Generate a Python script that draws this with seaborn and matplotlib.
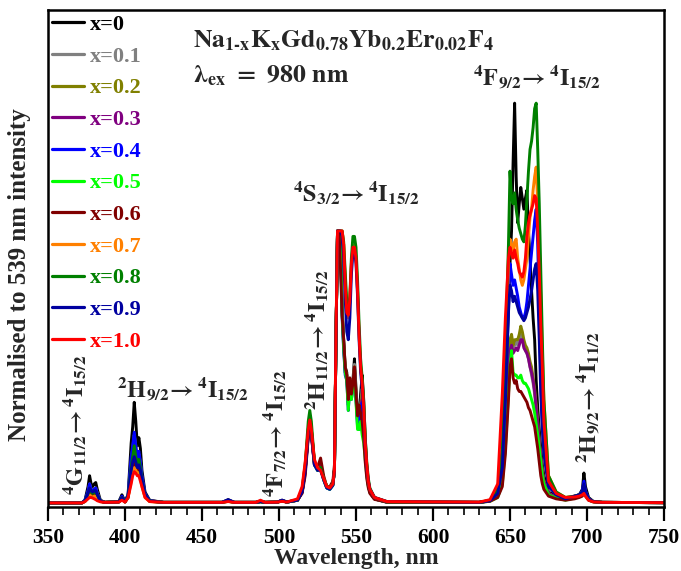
import numpy as np
import pandas as pd
import matplotlib
matplotlib.use("Agg")
import matplotlib.pyplot as plt
import seaborn as sns
from matplotlib.ticker import MultipleLocator

# ---------------- data ----------------
wavelength = [
    350, 372, 374, 376, 377, 378, 379, 380, 381, 382, 384, 387,
    396, 398, 400, 402, 404, 405, 406, 407, 408, 409, 410, 411, 413, 416, 425,
    463, 467, 471, 485, 488, 491, 499, 502, 505,
    512, 515, 517, 519, 520, 521, 523, 525, 527, 529, 531, 533, 535, 536, 537, 538,
    539, 540, 541, 542, 543, 544, 545, 546, 547, 548, 549, 550, 551, 552, 553, 554, 555, 556, 557, 558, 559, 562, 570,
    630, 637, 642, 645, 647, 649, 650, 651, 652, 653, 654, 655, 656, 657, 658, 659, 660, 661, 662, 663, 664, 665,
    666, 667, 668, 669, 670, 671, 672, 675, 680, 686,
    692, 695, 697, 698, 699, 701, 704, 710, 750,
]

series_labels = ["x=0", "x=0.1", "x=0.2", "x=0.3", "x=0.4", "x=0.5",
                 "x=0.6", "x=0.7", "x=0.8", "x=0.9", "x=1.0"]
series_colors = ["#000000", "#808080", "#808000", "#800080", "#0000FF", "#00FF00",
                 "#800000", "#FF8000", "#008000", "#0000A0", "#FF0000"]

x00 = [
    0, 0, 0.01, 0.06, 0.10, 0.07, 0.06, 0.07, 0.075, 0.05, 0.01, 0.002,
    0.005, 0.03, 0.005, 0.03, 0.22, 0.28, 0.37, 0.30, 0.21, 0.24, 0.20, 0.12, 0.04, 0.01, 0.002,
    0.002, 0.012, 0.002, 0.002, 0.006, 0.002, 0.003, 0.01, 0.004,
    0.01, 0.04, 0.12, 0.26, 0.31, 0.27, 0.15, 0.13, 0.14, 0.09, 0.06, 0.055, 0.07, 0.12, 0.6, 1.0,
    1.0, 0.97, 0.72, 0.6, 0.5, 0.48, 0.38, 0.45, 0.42, 0.45, 0.53, 0.42, 0.33, 0.30, 0.40, 0.47, 0.38, 0.24, 0.13, 0.07, 0.04, 0.015, 0.003,
    0.002, 0.008, 0.03, 0.12, 0.38, 0.72, 0.88, 1.0, 1.25, 1.47, 1.20, 1.03, 1.10, 1.16, 1.12, 1.08, 1.12, 1.15, 1.0, 0.9, 0.78, 0.68,
    0.6, 0.45, 0.35, 0.27, 0.2, 0.14, 0.1, 0.04, 0.025, 0.015,
    0.025, 0.03, 0.05, 0.11, 0.06, 0.02, 0.006, 0.002, 0.001,
]
x01 = [
    0, 0, 0.008, 0.04, 0.07, 0.05, 0.045, 0.05, 0.055, 0.035, 0.008, 0.002,
    0.004, 0.02, 0.004, 0.025, 0.15, 0.2, 0.25, 0.21, 0.16, 0.18, 0.15, 0.09, 0.03, 0.008, 0.002,
    0.002, 0.008, 0.002, 0.002, 0.005, 0.002, 0.003, 0.008, 0.003,
    0.01, 0.04, 0.12, 0.26, 0.30, 0.26, 0.15, 0.13, 0.14, 0.09, 0.06, 0.055, 0.07, 0.12, 0.6, 1.0,
    1.0, 0.95, 0.7, 0.58, 0.49, 0.47, 0.37, 0.44, 0.41, 0.44, 0.51, 0.41, 0.31, 0.29, 0.36, 0.42, 0.34, 0.22, 0.12, 0.07, 0.04, 0.015, 0.003,
    0.002, 0.008, 0.03, 0.11, 0.3, 0.5, 0.58, 0.6, 0.57, 0.58, 0.6, 0.58, 0.6, 0.62, 0.6, 0.58, 0.56, 0.55, 0.53, 0.5, 0.47, 0.44,
    0.4, 0.34, 0.28, 0.22, 0.16, 0.11, 0.08, 0.035, 0.02, 0.012,
    0.02, 0.025, 0.035, 0.07, 0.04, 0.015, 0.005, 0.002, 0.001,
]
x02 = [
    0, 0, 0.008, 0.04, 0.065, 0.05, 0.045, 0.05, 0.05, 0.035, 0.008, 0.002,
    0.004, 0.02, 0.004, 0.025, 0.14, 0.18, 0.22, 0.19, 0.15, 0.17, 0.14, 0.09, 0.03, 0.008, 0.002,
    0.002, 0.008, 0.002, 0.002, 0.005, 0.002, 0.003, 0.008, 0.003,
    0.01, 0.04, 0.12, 0.25, 0.30, 0.26, 0.15, 0.13, 0.14, 0.09, 0.06, 0.055, 0.07, 0.12, 0.6, 1.0,
    1.0, 0.95, 0.71, 0.59, 0.49, 0.47, 0.37, 0.45, 0.41, 0.44, 0.5, 0.4, 0.31, 0.29, 0.35, 0.4, 0.33, 0.21, 0.12, 0.07, 0.04, 0.015, 0.003,
    0.002, 0.008, 0.03, 0.11, 0.3, 0.52, 0.6, 0.62, 0.58, 0.6, 0.6, 0.6, 0.62, 0.65, 0.63, 0.6, 0.58, 0.57, 0.55, 0.52, 0.5, 0.46,
    0.42, 0.36, 0.3, 0.23, 0.17, 0.12, 0.08, 0.035, 0.02, 0.012,
    0.02, 0.025, 0.035, 0.06, 0.035, 0.015, 0.005, 0.002, 0.001,
]
x03 = [
    0, 0, 0.007, 0.035, 0.055, 0.04, 0.035, 0.04, 0.045, 0.03, 0.007, 0.002,
    0.004, 0.02, 0.004, 0.02, 0.12, 0.16, 0.19, 0.17, 0.14, 0.15, 0.13, 0.08, 0.03, 0.008, 0.002,
    0.002, 0.008, 0.002, 0.002, 0.005, 0.002, 0.003, 0.008, 0.003,
    0.01, 0.04, 0.12, 0.25, 0.29, 0.25, 0.14, 0.13, 0.14, 0.09, 0.06, 0.055, 0.07, 0.12, 0.6, 1.0,
    1.0, 0.94, 0.7, 0.58, 0.48, 0.46, 0.36, 0.44, 0.4, 0.43, 0.49, 0.39, 0.3, 0.28, 0.34, 0.38, 0.32, 0.2, 0.11, 0.065, 0.04, 0.015, 0.003,
    0.002, 0.008, 0.03, 0.1, 0.28, 0.48, 0.56, 0.58, 0.55, 0.56, 0.57, 0.56, 0.58, 0.6, 0.6, 0.57, 0.56, 0.55, 0.53, 0.5, 0.48, 0.45,
    0.41, 0.35, 0.29, 0.22, 0.16, 0.11, 0.08, 0.035, 0.02, 0.012,
    0.02, 0.025, 0.03, 0.05, 0.03, 0.012, 0.005, 0.002, 0.001,
]
x04 = [
    0, 0, 0.01, 0.045, 0.07, 0.05, 0.045, 0.05, 0.055, 0.035, 0.008, 0.002,
    0.004, 0.025, 0.005, 0.03, 0.17, 0.21, 0.26, 0.21, 0.17, 0.19, 0.15, 0.1, 0.035, 0.008, 0.002,
    0.002, 0.01, 0.002, 0.002, 0.005, 0.002, 0.003, 0.01, 0.003,
    0.01, 0.04, 0.11, 0.25, 0.30, 0.26, 0.14, 0.12, 0.13, 0.085, 0.055, 0.05, 0.065, 0.12, 0.6, 1.0,
    1.0, 0.93, 0.68, 0.56, 0.47, 0.45, 0.34, 0.43, 0.38, 0.42, 0.48, 0.38, 0.28, 0.27, 0.33, 0.37, 0.3, 0.19, 0.11, 0.065, 0.04, 0.015, 0.003,
    0.002, 0.008, 0.035, 0.14, 0.4, 0.75, 0.88, 0.84, 0.8, 0.82, 0.79, 0.76, 0.72, 0.7, 0.68, 0.68, 0.7, 0.74, 0.8, 0.86, 0.92, 0.98,
    1.04, 1.08, 0.95, 0.7, 0.45, 0.3, 0.2, 0.07, 0.03, 0.015,
    0.025, 0.03, 0.045, 0.08, 0.045, 0.015, 0.005, 0.002, 0.001,
]
x05 = [
    0, 0, 0.006, 0.03, 0.045, 0.035, 0.03, 0.035, 0.035, 0.025, 0.006, 0.002,
    0.004, 0.02, 0.004, 0.02, 0.1, 0.12, 0.14, 0.13, 0.11, 0.12, 0.1, 0.07, 0.025, 0.006, 0.002,
    0.002, 0.006, 0.002, 0.002, 0.004, 0.002, 0.003, 0.008, 0.003,
    0.01, 0.04, 0.12, 0.27, 0.32, 0.27, 0.14, 0.12, 0.13, 0.085, 0.055, 0.05, 0.065, 0.12, 0.6, 1.0,
    1.0, 0.94, 0.69, 0.57, 0.48, 0.45, 0.34, 0.44, 0.38, 0.42, 0.48, 0.37, 0.27, 0.27, 0.3, 0.25, 0.22, 0.16, 0.1, 0.06, 0.04, 0.015, 0.003,
    0.002, 0.006, 0.02, 0.07, 0.2, 0.4, 0.5, 0.56, 0.48, 0.47, 0.47, 0.46, 0.46, 0.47, 0.45, 0.44, 0.44, 0.43, 0.42, 0.4, 0.38, 0.36,
    0.33, 0.29, 0.25, 0.2, 0.15, 0.1, 0.07, 0.03, 0.018, 0.01,
    0.018, 0.022, 0.03, 0.045, 0.03, 0.012, 0.004, 0.002, 0.001,
]
x06 = [
    0, 0, 0.006, 0.03, 0.045, 0.035, 0.03, 0.035, 0.035, 0.025, 0.006, 0.002,
    0.004, 0.02, 0.004, 0.02, 0.1, 0.13, 0.15, 0.14, 0.12, 0.13, 0.11, 0.07, 0.025, 0.006, 0.002,
    0.002, 0.006, 0.002, 0.002, 0.004, 0.002, 0.003, 0.008, 0.003,
    0.01, 0.035, 0.1, 0.24, 0.28, 0.25, 0.14, 0.13, 0.165, 0.1, 0.06, 0.06, 0.08, 0.14, 0.62, 1.0,
    1.0, 0.85, 0.69, 0.6, 0.5, 0.47, 0.38, 0.46, 0.4, 0.44, 0.5, 0.4, 0.32, 0.36, 0.33, 0.3, 0.24, 0.15, 0.09, 0.055, 0.035, 0.013, 0.003,
    0.002, 0.006, 0.02, 0.06, 0.18, 0.38, 0.5, 0.53, 0.46, 0.44, 0.45, 0.42, 0.41, 0.41, 0.4, 0.39, 0.38, 0.37, 0.35, 0.34, 0.32, 0.3,
    0.28, 0.24, 0.2, 0.15, 0.1, 0.07, 0.05, 0.025, 0.015, 0.01,
    0.015, 0.02, 0.025, 0.04, 0.025, 0.01, 0.004, 0.002, 0.001,
]
x07 = [
    0, 0, 0.005, 0.02, 0.03, 0.025, 0.02, 0.025, 0.025, 0.015, 0.005, 0.002,
    0.004, 0.015, 0.003, 0.02, 0.08, 0.11, 0.13, 0.12, 0.11, 0.11, 0.09, 0.06, 0.02, 0.005, 0.002,
    0.002, 0.006, 0.002, 0.002, 0.006, 0.002, 0.003, 0.008, 0.003,
    0.01, 0.05, 0.14, 0.27, 0.31, 0.27, 0.15, 0.13, 0.12, 0.09, 0.06, 0.055, 0.07, 0.12, 0.6, 1.0,
    1.0, 1.0, 1.0, 0.95, 0.82, 0.72, 0.68, 0.74, 0.87, 0.94, 0.95, 0.9, 0.78, 0.62, 0.5, 0.44, 0.35, 0.22, 0.14, 0.08, 0.05, 0.02, 0.005,
    0.002, 0.01, 0.05, 0.2, 0.52, 0.88, 0.97, 0.95, 0.93, 0.96, 0.97, 0.9, 0.86, 0.82, 0.8, 0.82, 0.86, 0.9, 0.98, 1.05, 1.08, 1.15,
    1.2, 1.235, 1.1, 0.95, 0.75, 0.55, 0.38, 0.1, 0.04, 0.02,
    0.025, 0.03, 0.035, 0.045, 0.03, 0.012, 0.005, 0.002, 0.001,
]
x08 = [
    0, 0, 0.007, 0.035, 0.05, 0.04, 0.035, 0.04, 0.04, 0.03, 0.007, 0.002,
    0.004, 0.02, 0.004, 0.025, 0.13, 0.17, 0.21, 0.17, 0.14, 0.16, 0.13, 0.08, 0.03, 0.007, 0.002,
    0.002, 0.008, 0.002, 0.002, 0.005, 0.002, 0.003, 0.008, 0.003,
    0.01, 0.05, 0.14, 0.3, 0.34, 0.3, 0.15, 0.12, 0.13, 0.09, 0.06, 0.055, 0.07, 0.12, 0.6, 1.0,
    1.0, 1.0, 1.0, 0.96, 0.85, 0.74, 0.7, 0.76, 0.9, 0.98, 0.98, 0.94, 0.82, 0.66, 0.53, 0.46, 0.37, 0.24, 0.15, 0.09, 0.055, 0.02, 0.005,
    0.002, 0.01, 0.05, 0.2, 0.55, 0.95, 1.22, 1.12, 1.1, 1.14, 1.08, 1.04, 1.01, 0.99, 0.97, 0.96, 1.02, 1.12, 1.22, 1.3, 1.33, 1.38,
    1.45, 1.47, 1.3, 1.1, 0.85, 0.6, 0.38, 0.1, 0.04, 0.02,
    0.025, 0.03, 0.04, 0.05, 0.035, 0.012, 0.005, 0.002, 0.001,
]
x09 = [
    0, 0, 0.008, 0.035, 0.055, 0.045, 0.04, 0.045, 0.045, 0.03, 0.007, 0.002,
    0.004, 0.02, 0.004, 0.025, 0.12, 0.15, 0.17, 0.15, 0.13, 0.14, 0.12, 0.08, 0.03, 0.007, 0.002,
    0.002, 0.012, 0.002, 0.002, 0.005, 0.002, 0.003, 0.01, 0.003,
    0.01, 0.04, 0.12, 0.26, 0.29, 0.26, 0.14, 0.12, 0.12, 0.085, 0.055, 0.05, 0.065, 0.12, 0.6, 1.0,
    1.0, 1.0, 0.98, 0.9, 0.75, 0.63, 0.6, 0.68, 0.84, 0.92, 0.93, 0.88, 0.76, 0.6, 0.48, 0.42, 0.33, 0.21, 0.13, 0.08, 0.05, 0.02, 0.005,
    0.002, 0.008, 0.035, 0.13, 0.38, 0.7, 0.8, 0.78, 0.74, 0.76, 0.74, 0.72, 0.7, 0.69, 0.68, 0.67, 0.68, 0.7, 0.72, 0.75, 0.78, 0.82,
    0.86, 0.88, 0.78, 0.6, 0.4, 0.27, 0.18, 0.06, 0.03, 0.015,
    0.025, 0.03, 0.04, 0.07, 0.04, 0.015, 0.005, 0.002, 0.001,
]
x10 = [
    0, 0, 0.005, 0.015, 0.02, 0.02, 0.018, 0.015, 0.012, 0.008, 0.004, 0.002,
    0.003, 0.01, 0.003, 0.02, 0.07, 0.1, 0.115, 0.11, 0.1, 0.1, 0.08, 0.06, 0.02, 0.005, 0.002,
    0.002, 0.005, 0.002, 0.002, 0.01, 0.002, 0.003, 0.006, 0.003,
    0.015, 0.06, 0.15, 0.27, 0.305, 0.27, 0.16, 0.13, 0.12, 0.09, 0.06, 0.055, 0.07, 0.12, 0.62, 1.0,
    1.0, 1.0, 1.0, 0.95, 0.8, 0.7, 0.69, 0.75, 0.88, 0.94, 0.94, 0.9, 0.78, 0.62, 0.5, 0.44, 0.35, 0.22, 0.14, 0.08, 0.05, 0.02, 0.005,
    0.003, 0.012, 0.07, 0.4, 0.68, 0.9, 0.94, 0.92, 0.9, 0.93, 0.9, 0.88, 0.85, 0.84, 0.83, 0.85, 0.9, 0.98, 1.03, 1.06, 1.08, 1.1,
    1.13, 1.12, 1.0, 0.85, 0.65, 0.5, 0.3, 0.08, 0.035, 0.02,
    0.022, 0.025, 0.03, 0.035, 0.025, 0.01, 0.004, 0.002, 0.001,
]
series_values = [x00, x01, x02, x03, x04, x05, x06, x07, x08, x09, x10]

# ---------------- long-form table ----------------
rows = []
for lab, vals in zip(series_labels, series_values):
    for w, v in zip(wavelength, vals):
        rows.append((lab, w, v))
df = pd.DataFrame(rows, columns=["series", "wavelength", "intensity"])

# ---------------- style ----------------
sns.set_theme(style="white")
plt.rcParams["font.family"] = ["Liberation Serif", "DejaVu Serif"]
plt.rcParams["font.weight"] = "bold"
plt.rcParams["mathtext.fontset"] = "stix"

W, H = 681, 571
fig = plt.figure(figsize=(W / 100, H / 100), dpi=100)
ax = fig.add_axes([48 / W, 1 - 507 / H, (664 - 48) / W, (507 - 10) / H])

sns.lineplot(data=df, x="wavelength", y="intensity", hue="series",
             hue_order=series_labels, palette=dict(zip(series_labels, series_colors)),
             estimator=None, sort=False, linewidth=2.1, ax=ax)

ax.set_xlim(350, 750)
ax.set_ylim(-0.015, 1.8125)
ax.xaxis.set_major_locator(MultipleLocator(50))
ax.xaxis.set_minor_locator(MultipleLocator(10))
ax.tick_params(axis="x", which="major", direction="out", length=10, width=1.6,
               labelsize=15.5, bottom=True, pad=5, colors="black")
ax.tick_params(axis="x", which="minor", direction="out", length=6, width=1.4, bottom=True)
ax.set_yticks([])
for lab in ax.get_xticklabels():
    lab.set_fontweight("bold")
for sp in ax.spines.values():
    sp.set_linewidth(1.8)
    sp.set_color("black")

ax.set_xlabel("Wavelength, nm", fontsize=17, fontweight="bold", labelpad=0)
ax.set_ylabel("Normalised to 539 nm intensity", fontsize=18, fontweight="bold")
ax.yaxis.set_label_coords(-0.027, 0.467)

handles, labels = ax.get_legend_handles_labels()
leg = ax.legend(handles, labels, loc="upper left", bbox_to_anchor=(0.0, 1.0),
                frameon=False, labelcolor="linecolor", handlelength=1.4,
                handletextpad=0.3, labelspacing=0.5, borderaxespad=0.05, borderpad=0.15,
                prop={"family": "Liberation Serif", "weight": "bold", "size": 16})
for line in leg.get_lines():
    line.set_linewidth(2.3)

# ---------------- annotations ----------------
ax.text(444.2, 1.70, r"$\mathbf{Na_{1\text{-}x}K_{x}Gd_{0.78}Yb_{0.2}Er_{0.02}F_{4}}$",
        fontsize=18.5, ha="left", va="center")
ax.text(444.2, 1.57, r"$\mathbf{\lambda_{ex}\ =\ 980\ nm}$",
        fontsize=18.5, ha="left", va="center")

tfs = 17.5
ax.text(626, 1.537, r"$\mathbf{{}^{4}F_{9/2}\!\rightarrow{}^{4}I_{15/2}}$",
        fontsize=tfs, ha="left", va="baseline")
ax.text(509.1, 1.107, r"$\mathbf{{}^{4}S_{3/2}\!\rightarrow{}^{4}I_{15/2}}$",
        fontsize=tfs, ha="left", va="baseline")
ax.text(394.8, 0.39, r"$\mathbf{{}^{2}H_{9/2}\!\rightarrow{}^{4}I_{15/2}}$",
        fontsize=tfs, ha="left", va="baseline")
ax.text(367.5, 0.287, r"$\mathbf{{}^{4}G_{11/2}\!\rightarrow{}^{4}I_{15/2}}$",
        fontsize=tfs, ha="center", va="center", rotation=90)
ax.text(497.4, 0.257, r"$\mathbf{{}^{4}F_{7/2}\!\rightarrow{}^{4}I_{15/2}}$",
        fontsize=tfs, ha="center", va="center", rotation=90)
ax.text(524.7, 0.60, r"$\mathbf{{}^{2}H_{11/2}\!\rightarrow{}^{4}I_{15/2}}$",
        fontsize=tfs, ha="center", va="center", rotation=90)
ax.text(700.6, 0.39, r"$\mathbf{{}^{2}H_{9/2}\!\rightarrow{}^{4}I_{11/2}}$",
        fontsize=tfs, ha="center", va="center", rotation=90)

fig.savefig("out.png", dpi=100)
